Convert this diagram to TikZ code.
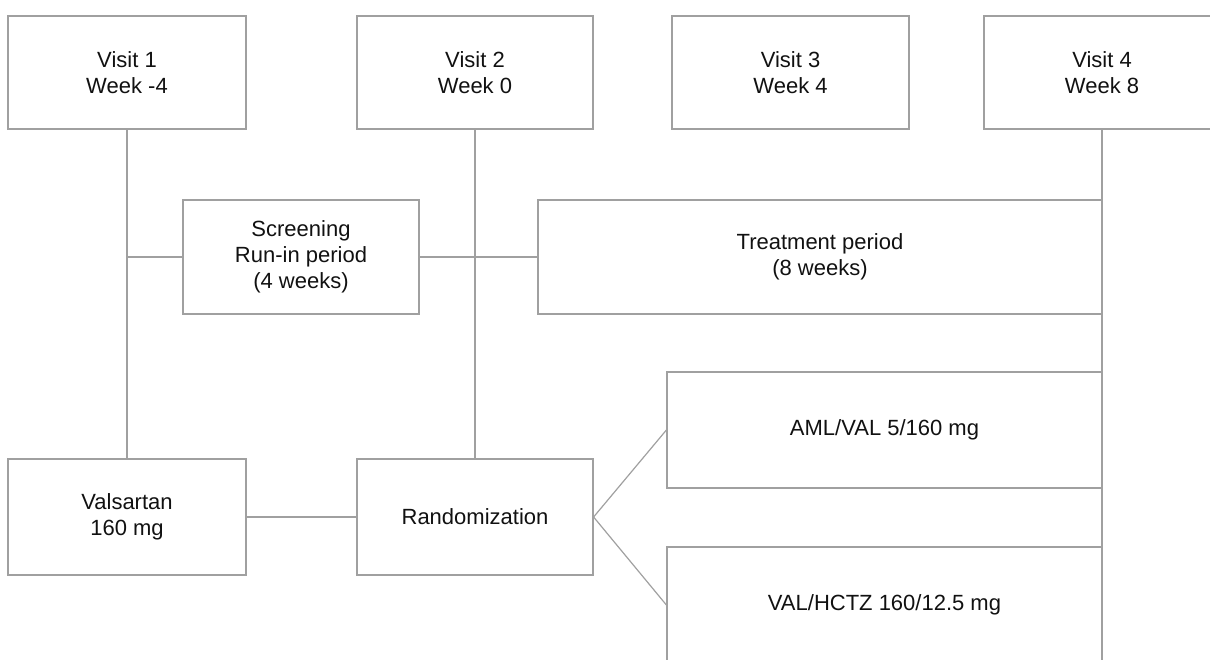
\documentclass[tikz,border=0pt]{standalone}
\usepackage{fontspec}
\setmainfont{Liberation Sans}
\definecolor{linegray}{HTML}{A0A0A0}
\definecolor{txt}{HTML}{111111}
\begin{document}
\begin{tikzpicture}[x=1pt,y=-1pt,
  box/.style={draw=linegray, line width=1.2pt, rectangle, inner sep=0pt, align=center,
    text=txt, font=\fontsize{22}{26}\selectfont},
  conn/.style={draw=linegray, line width=1.2pt}]
\useasboundingbox (0,0) rectangle (1210,659);
\clip (0,0) rectangle (1210,659);
\node[box, minimum width=238pt, minimum height=113pt] (v1) at (127,72.5) {Visit 1\\Week -4};
\node[box, minimum width=236pt, minimum height=113pt] (v2) at (475,72.5) {Visit 2\\Week 0};
\node[box, minimum width=237pt, minimum height=113pt] (v3) at (790.5,72.5) {Visit 3\\Week 4};
\node[box, minimum width=236pt, minimum height=113pt] (v4) at (1102,72.5) {Visit 4\\Week 8};
\node[box, minimum width=236pt, minimum height=114pt] (scr) at (301,257) {Screening\\Run-in period\\(4 weeks)};
\node[box, minimum width=564pt, minimum height=114pt] (trt) at (820,257) {Treatment period\\(8 weeks)};
\node[box, minimum width=238pt, minimum height=116pt] (val) at (127,517) {Valsartan\\160 mg};
\node[box, minimum width=236pt, minimum height=116pt] (rand) at (475,517) {Randomization};
\node[box, minimum width=435pt, minimum height=116pt] (aml) at (884.5,430) {AML/VAL 5/160 mg};
\node[box, minimum width=435pt, minimum height=116pt] (hctz) at (884.5,605) {VAL/HCTZ 160/12.5 mg};
\coordinate (bottom) at (1102,670);
\draw[conn] (v1.south) -- (val.north);
\draw[conn] (v2.south) -- (rand.north);
\draw[conn] (v4.south) -- (bottom);
\draw[conn] (scr.west -| v1.south) -- (scr.west);
\draw[conn] (scr.east) -- (trt.west);
\draw[conn] (val.east) -- (rand.west);
\draw[conn] (rand.east) -- (aml.west);
\draw[conn] (rand.east) -- (hctz.west);
\end{tikzpicture}
\end{document}
